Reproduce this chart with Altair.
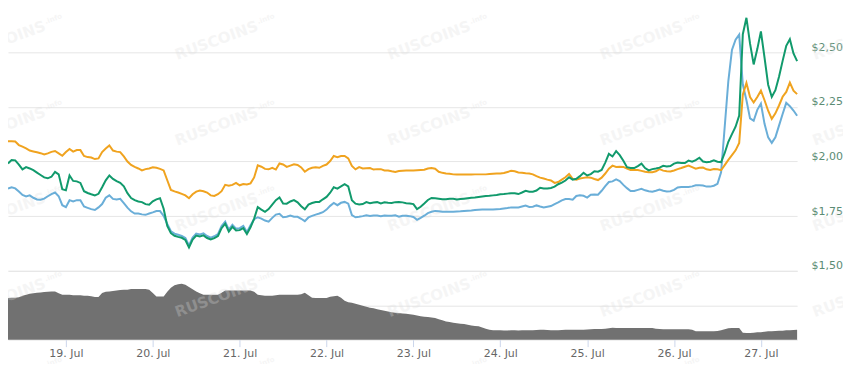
import altair as alt
import pandas as pd

# hourly readings, first one on 18 Jul 08:00
START = "2018-07-18 08:00"

orange = [
    2.092, 2.092, 2.091, 2.075, 2.068, 2.060, 2.050, 2.046, 2.042, 2.038, 2.032, 2.037,
    2.044, 2.048, 2.037, 2.026, 2.043, 2.057, 2.045, 2.052, 2.052, 2.025, 2.020, 2.018,
    2.011, 2.014, 2.043, 2.059, 2.073, 2.050, 2.045, 2.043, 2.023, 2.000, 1.984, 1.975,
    1.968, 1.959, 1.965, 1.968, 1.973, 1.971, 1.966, 1.959, 1.914, 1.870, 1.863, 1.858,
    1.852, 1.845, 1.832, 1.850, 1.862, 1.867, 1.864, 1.858, 1.845, 1.842, 1.850, 1.864,
    1.893, 1.889, 1.893, 1.902, 1.891, 1.897, 1.895, 1.900, 1.927, 1.982, 1.976, 1.966,
    1.964, 1.971, 1.963, 1.991, 1.986, 1.975, 1.981, 1.987, 1.984, 1.973, 1.953, 1.965,
    1.971, 1.973, 1.971, 1.980, 1.986, 2.002, 2.025, 2.020, 2.025, 2.025, 2.014, 1.980,
    1.964, 1.974, 1.968, 1.969, 1.970, 1.963, 1.965, 1.965, 1.959, 1.959, 1.955, 1.952,
    1.956, 1.958, 1.959, 1.959, 1.959, 1.960, 1.961, 1.962, 1.968, 1.970, 1.967, 1.953,
    1.948, 1.945, 1.944, 1.941, 1.940, 1.940, 1.940, 1.940, 1.940, 1.941, 1.941, 1.941,
    1.941, 1.943, 1.944, 1.945, 1.945, 1.947, 1.952, 1.957, 1.955, 1.950, 1.948, 1.946,
    1.945, 1.941, 1.933, 1.926, 1.922, 1.917, 1.913, 1.902, 1.906, 1.917, 1.928, 1.943,
    1.921, 1.917, 1.922, 1.925, 1.928, 1.926, 1.920, 1.915, 1.926, 1.945, 1.967, 1.981,
    1.975, 1.976, 1.975, 1.967, 1.961, 1.961, 1.961, 1.957, 1.953, 1.951, 1.951, 1.955,
    1.965, 1.958, 1.955, 1.954, 1.959, 1.965, 1.970, 1.976, 1.981, 1.974, 1.967, 1.971,
    1.972, 1.964, 1.961, 1.965, 1.964, 1.960, 1.983, 2.007, 2.029, 2.051, 2.085, 2.305,
    2.359, 2.295, 2.270, 2.295, 2.324, 2.280, 2.232, 2.195, 2.220, 2.256, 2.296, 2.318,
    2.361, 2.324, 2.308,
]

green = [
    1.991, 2.007, 2.005, 1.986, 1.964, 1.974, 1.968, 1.960, 1.949, 1.938, 1.927, 1.923,
    1.930, 1.952, 1.941, 1.873, 1.868, 1.936, 1.911, 1.909, 1.902, 1.864, 1.856, 1.850,
    1.845, 1.852, 1.882, 1.914, 1.936, 1.920, 1.910, 1.902, 1.886, 1.855, 1.833, 1.823,
    1.817, 1.814, 1.805, 1.802, 1.818, 1.827, 1.832, 1.784, 1.705, 1.672, 1.660, 1.655,
    1.651, 1.641, 1.607, 1.643, 1.661, 1.657, 1.662, 1.650, 1.643, 1.649, 1.659, 1.695,
    1.716, 1.679, 1.701, 1.684, 1.686, 1.695, 1.668, 1.699, 1.739, 1.791, 1.780, 1.770,
    1.782, 1.803, 1.823, 1.835, 1.808, 1.807, 1.817, 1.823, 1.813, 1.795, 1.781, 1.803,
    1.810, 1.815, 1.815, 1.827, 1.838, 1.857, 1.882, 1.876, 1.886, 1.896, 1.886, 1.823,
    1.807, 1.803, 1.805, 1.814, 1.809, 1.812, 1.814, 1.808, 1.813, 1.811, 1.810, 1.814,
    1.815, 1.813, 1.809, 1.808, 1.805, 1.782, 1.793, 1.808, 1.824, 1.833, 1.832, 1.830,
    1.827, 1.827, 1.830, 1.829, 1.826, 1.828, 1.830, 1.832, 1.834, 1.835, 1.838, 1.840,
    1.842, 1.843, 1.845, 1.847, 1.850, 1.851, 1.853, 1.855, 1.855, 1.851, 1.858, 1.866,
    1.862, 1.862, 1.867, 1.880, 1.876, 1.876, 1.879, 1.885, 1.896, 1.903, 1.913, 1.928,
    1.917, 1.921, 1.933, 1.948, 1.936, 1.942, 1.955, 1.953, 1.961, 1.995, 2.035, 2.023,
    2.047, 2.029, 2.003, 1.974, 1.970, 1.970, 1.979, 1.990, 1.970, 1.959, 1.965, 1.968,
    1.972, 1.980, 1.977, 1.979, 1.990, 1.995, 1.993, 1.993, 2.004, 1.999, 2.006, 2.017,
    2.000, 1.997, 1.999, 2.005, 1.999, 1.997, 2.039, 2.090, 2.125, 2.159, 2.210, 2.582,
    2.657, 2.539, 2.444, 2.514, 2.595, 2.475, 2.351, 2.295, 2.326, 2.388, 2.460, 2.529,
    2.559, 2.494, 2.459,
]

blue = [
    1.876, 1.882, 1.877, 1.863, 1.847, 1.840, 1.845, 1.834, 1.826, 1.825, 1.830, 1.841,
    1.851, 1.858, 1.841, 1.800, 1.791, 1.823, 1.817, 1.823, 1.823, 1.794, 1.788, 1.782,
    1.778, 1.790, 1.805, 1.834, 1.845, 1.829, 1.826, 1.829, 1.810, 1.789, 1.772, 1.762,
    1.762, 1.758, 1.756, 1.762, 1.767, 1.773, 1.773, 1.751, 1.714, 1.681, 1.670, 1.665,
    1.660, 1.650, 1.616, 1.652, 1.670, 1.666, 1.671, 1.659, 1.652, 1.658, 1.668, 1.705,
    1.725, 1.688, 1.710, 1.693, 1.695, 1.705, 1.677, 1.708, 1.736, 1.745, 1.739, 1.730,
    1.725, 1.742, 1.757, 1.761, 1.745, 1.747, 1.753, 1.747, 1.747, 1.738, 1.727, 1.744,
    1.751, 1.757, 1.762, 1.768, 1.780, 1.797, 1.810, 1.800, 1.811, 1.815, 1.807, 1.755,
    1.745, 1.747, 1.750, 1.754, 1.751, 1.753, 1.753, 1.750, 1.753, 1.752, 1.752, 1.754,
    1.747, 1.752, 1.752, 1.750, 1.746, 1.733, 1.742, 1.752, 1.764, 1.770, 1.774, 1.772,
    1.770, 1.770, 1.770, 1.770, 1.771, 1.772, 1.774, 1.775, 1.776, 1.778, 1.779, 1.780,
    1.780, 1.780, 1.780, 1.782, 1.783, 1.785, 1.787, 1.790, 1.790, 1.790, 1.794, 1.798,
    1.792, 1.793, 1.799, 1.794, 1.790, 1.793, 1.796, 1.805, 1.813, 1.822, 1.828, 1.828,
    1.825, 1.842, 1.845, 1.843, 1.835, 1.848, 1.849, 1.848, 1.866, 1.887, 1.906, 1.909,
    1.918, 1.910, 1.893, 1.878, 1.865, 1.865, 1.870, 1.875, 1.868, 1.864, 1.862, 1.866,
    1.872, 1.866, 1.863, 1.864, 1.870, 1.881, 1.883, 1.883, 1.883, 1.886, 1.891, 1.891,
    1.890, 1.885, 1.885, 1.889, 1.898, 1.950, 2.159, 2.368, 2.510, 2.557, 2.580, 2.352,
    2.280, 2.197, 2.186, 2.236, 2.265, 2.172, 2.110, 2.085, 2.111, 2.164, 2.217, 2.268,
    2.253, 2.233, 2.209,
]

volume = [
    60.4, 60.9, 60.9, 61.6, 63.8, 65.2, 66.7, 67.4, 68.1, 68.5, 69.1, 69.6,
    70.0, 70.0, 67.4, 65.2, 65.2, 65.2, 64.5, 64.5, 64.5, 63.8, 63.8, 63.0,
    61.9, 61.9, 67.7, 69.6, 70.0, 70.6, 71.4, 72.0, 72.5, 72.5, 73.5, 73.5,
    73.5, 73.5, 73.5, 72.5, 67.7, 62.7, 62.7, 62.7, 69.6, 75.4, 79.0, 80.4,
    81.2, 79.7, 76.4, 73.2, 70.0, 67.4, 65.2, 65.2, 65.2, 65.2, 65.2, 68.1,
    71.4, 71.4, 71.4, 71.4, 71.4, 71.4, 71.4, 71.4, 69.6, 65.2, 64.5, 63.8,
    63.8, 63.8, 64.5, 65.2, 65.2, 65.2, 65.2, 65.2, 65.2, 65.9, 68.1, 64.5,
    60.9, 60.4, 60.4, 60.4, 60.4, 62.3, 63.0, 63.8, 60.9, 56.5, 54.3, 53.6,
    52.2, 50.7, 49.3, 47.8, 46.4, 45.6, 44.2, 43.0, 42.0, 40.9, 39.8, 39.1,
    38.7, 38.1, 37.7, 37.0, 36.2, 35.1, 34.1, 33.3, 32.9, 32.2, 31.4, 29.7,
    28.0, 26.5, 25.6, 24.6, 23.9, 23.2, 22.7, 21.7, 20.7, 19.9, 19.3, 17.8,
    15.9, 14.5, 13.8, 13.5, 13.5, 13.4, 13.4, 13.5, 13.5, 13.4, 13.5, 13.5,
    13.5, 13.5, 14.0, 14.5, 14.5, 14.0, 13.8, 13.8, 13.8, 14.1, 14.5, 14.5,
    14.5, 14.5, 14.5, 14.5, 14.9, 15.2, 15.5, 15.5, 15.5, 15.9, 16.4, 17.4,
    17.0, 17.0, 17.0, 17.0, 17.0, 17.0, 17.0, 17.0, 17.0, 17.0, 17.0, 15.9,
    15.5, 15.2, 15.2, 15.2, 15.2, 15.2, 15.2, 15.2, 15.2, 14.5, 12.3, 12.0,
    12.0, 12.0, 12.0, 12.0, 12.6, 13.8, 15.2, 16.7, 17.0, 17.0, 17.0, 10.1,
    9.7, 9.7, 10.1, 10.6, 10.9, 11.6, 12.0, 12.3, 12.6, 13.0, 13.0, 13.5,
    13.8, 14.1, 14.5,
]

tick_days = [19, 20, 21, 22, 23, 24, 25, 26, 27]
price_ticks = [1.50, 1.75, 2.00, 2.25, 2.50]
volume_grid = [0, 50, 100]
watermark_text = "RUSCOINS"

assert len(orange) == len(green) == len(blue) == len(volume)

times = pd.date_range(START, periods=len(orange), freq="h")
df = pd.DataFrame({"time": times, "orange": orange, "green": green,
                   "blue": blue, "volume": volume})

W, H = 791, 332
PRICE_H = 263  # price panel occupies the top part of the view
P_LO, P_HI = 1.5, 2.7

FONT = "DejaVu Sans"

x_scale = alt.Scale(
    domain=[alt.DateTime(year=2018, month=7, date=18, hours=8),
            alt.DateTime(year=2018, month=7, date=27, hours=10)],
    nice=False,
)
x_axis = alt.Axis(
    values=[alt.DateTime(year=2018, month=7, date=d) for d in tick_days],
    format="%d. %b", title=None, grid=False, domain=False,
    labelColor="#666666", labelFont=FONT, labelFontSize=11,
    tickColor="#ccd6eb", tickSize=7,
    labelPadding=1, labelFlush=False, labelOverlap=False,
)
x_enc = alt.X("time:T", scale=x_scale, axis=x_axis)

price_scale = alt.Scale(domain=[P_LO, P_HI], range=[PRICE_H, 0], nice=False, zero=False)
price_axis = alt.Axis(
    orient="right", values=price_ticks, title=None,
    labelExpr="'$' + replace(format(datum.value, '.2f'), '.', ',')",
    grid=True, gridColor="#e6e6e6", domain=False, ticks=False,
    labelPadding=14, labelColor="#5b8c74", labelFont=FONT, labelFontSize=11,
    labelBaseline="bottom", labelAlign="left", labelOverlap=False, labelFlush=False,
)


def price_line(col, color):
    return alt.Chart(df).mark_line(color=color, strokeWidth=2).encode(
        x=x_enc, y=alt.Y(f"{col}:Q", scale=price_scale, axis=price_axis)
    )


# faint tiled watermark, laid out on the chart's own scales
t0 = pd.Timestamp(START)
span = times[-1] - t0
wm_rows = []
for r in range(5):
    for c in range(5):
        px, py = -4 + 213 * c, 32 + 86 * r
        wm_rows.append({"wt": t0 + span * (px / W),
                        "wp": P_HI - (P_HI - P_LO) * py / PRICE_H})
wm = pd.DataFrame(wm_rows)
wm_x = alt.X("wt:T", scale=x_scale, axis=x_axis)
wm_y = alt.Y("wp:Q", scale=price_scale, axis=price_axis)
wm_main = alt.Chart(wm).mark_text(
    text=watermark_text, angle=340, font=FONT, fontWeight="bold", fontSize=15,
    color="#dcdcdc", opacity=0.28, align="center", baseline="middle",
).encode(x=wm_x, y=wm_y)
wm_small = alt.Chart(wm).mark_text(
    text=".info", angle=340, font=FONT, fontWeight="bold", fontSize=7,
    color="#dcdcdc", opacity=0.28, align="left", baseline="middle", dx=45, dy=-3,
).encode(x=wm_x, y=wm_y)

price_layers = alt.layer(
    wm_main,
    wm_small,
    price_line("blue", "#6aaed8"),
    price_line("orange", "#f0a31f"),
    price_line("green", "#119a6c"),
)

vol = alt.Chart(df).mark_area(color="#717171", opacity=1).encode(
    x=x_enc,
    y=alt.Y("volume:Q",
            scale=alt.Scale(domain=[0, 100], range=[H, PRICE_H], nice=False),
            axis=alt.Axis(orient="left", values=volume_grid, grid=True,
                          gridColor="#e6e6e6", labels=False, ticks=False,
                          domain=False, title=None)),
)

chart = (
    alt.layer(vol, price_layers)
    .resolve_scale(y="independent")
    .properties(
        width=W, height=H,
        background="white",
        autosize=alt.AutoSizeParams(type="none"),
        padding={"left": 0, "top": 0, "right": 46, "bottom": 24},
    )
    .configure_view(strokeWidth=0)
    .configure_axis(domain=False)
)

chart.save("out.html", embed_options={"renderer": "svg", "actions": False})
